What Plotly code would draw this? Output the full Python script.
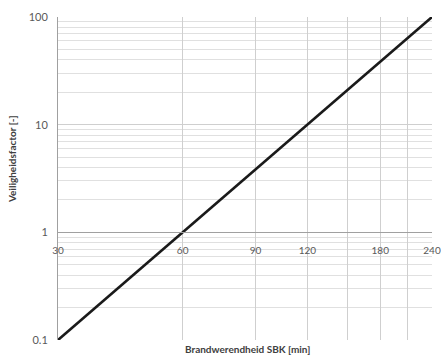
import math
import plotly.graph_objects as go

# Data
sbk_minutes = [30, 60, 90, 120, 180, 240]
safety_factor = [0.1, 1, 3.85, 10, 38.5, 100]
x_grid_vals = [30, 60, 90, 120, 150, 180, 210, 240]
x_tick_labels = ["30", "60", "90", "120", "180", "240"]
y_tick_vals = [0.1, 1, 10, 100]
y_tick_labels = ["0.1", "1", "10", "100"]
y_minor_vals = [m * d for d in (0.1, 1, 10) for m in range(2, 10)]

x_title = "Brandwerendheid SBK [min]"
y_title = "Veiligheidsfactor [-]"

FONT = "Lato, 'Liberation Sans', sans-serif"

fig = go.Figure()
fig.add_trace(go.Scatter(
    x=sbk_minutes, y=safety_factor, mode="lines",
    line=dict(color="#1a1a1a", width=2.6), showlegend=False, hoverinfo="skip",
    xaxis="x", yaxis="y",
))
# helper trace so the labelled axis at y=1 is drawn
fig.add_trace(go.Scatter(
    x=[sbk_minutes[0], sbk_minutes[-1]], y=[safety_factor[0], safety_factor[-1]],
    mode="lines", line=dict(width=0), opacity=0, showlegend=False, hoverinfo="skip",
    xaxis="x2", yaxis="y",
))

xrange = [math.log10(30), math.log10(240)]
yrange = [math.log10(0.1), math.log10(100)]

fig.update_layout(
    width=441, height=358,
    margin=dict(l=58, r=9, t=17, b=18),
    paper_bgcolor="white", plot_bgcolor="white",
    font=dict(family=FONT, color="#595959", size=10),
    xaxis=dict(
        type="log", range=xrange, automargin=False,
        tickmode="array", tickvals=x_grid_vals, ticktext=[""] * len(x_grid_vals),
        showticklabels=False, showgrid=True, gridcolor="#cfcfcf", gridwidth=1,
        showline=False, zeroline=False, ticks="",
    ),
    xaxis2=dict(
        type="log", range=xrange, overlaying="x", anchor="free", position=1/3,
        side="bottom", automargin=False,
        tickmode="array", tickvals=sbk_minutes, ticktext=x_tick_labels,
        showgrid=False, showline=True, linecolor="#a0a0a0", linewidth=1,
        ticks="", ticklabelstandoff=9,
        tickfont=dict(family=FONT, size=10, color="#595959"),
    ),
    yaxis=dict(
        type="log", range=yrange, domain=[0, 1], automargin=False,
        tickmode="array", tickvals=y_tick_vals, ticktext=y_tick_labels,
        showgrid=True, gridcolor="#cfcfcf", gridwidth=1,
        minor=dict(tickmode="array", tickvals=y_minor_vals, showgrid=True,
                   gridcolor="#e0e0e0", gridwidth=1, ticks=""),
        showline=True, linecolor="#a0a0a0", linewidth=1, zeroline=False,
        ticks="", ticklabelstandoff=7,
        tickfont=dict(family=FONT, size=11, color="#595959"),
    ),
    annotations=[
        dict(text=f"<b>{x_title}</b>", xref="paper", yref="paper",
             x=0.507, y=0, yshift=-9, xanchor="center", yanchor="middle",
             showarrow=False, font=dict(family=FONT, size=10, color="#404040")),
        dict(text=f"<b>{y_title}</b>", xref="paper", yref="paper",
             x=0, xshift=-46, y=0.56, xanchor="center", yanchor="middle",
             textangle=-90, showarrow=False,
             font=dict(family=FONT, size=10, color="#404040")),
    ],
)

fig.write_html("out.html", config={"displayModeBar": False},
               post_script="document.body.style.margin='0';")
